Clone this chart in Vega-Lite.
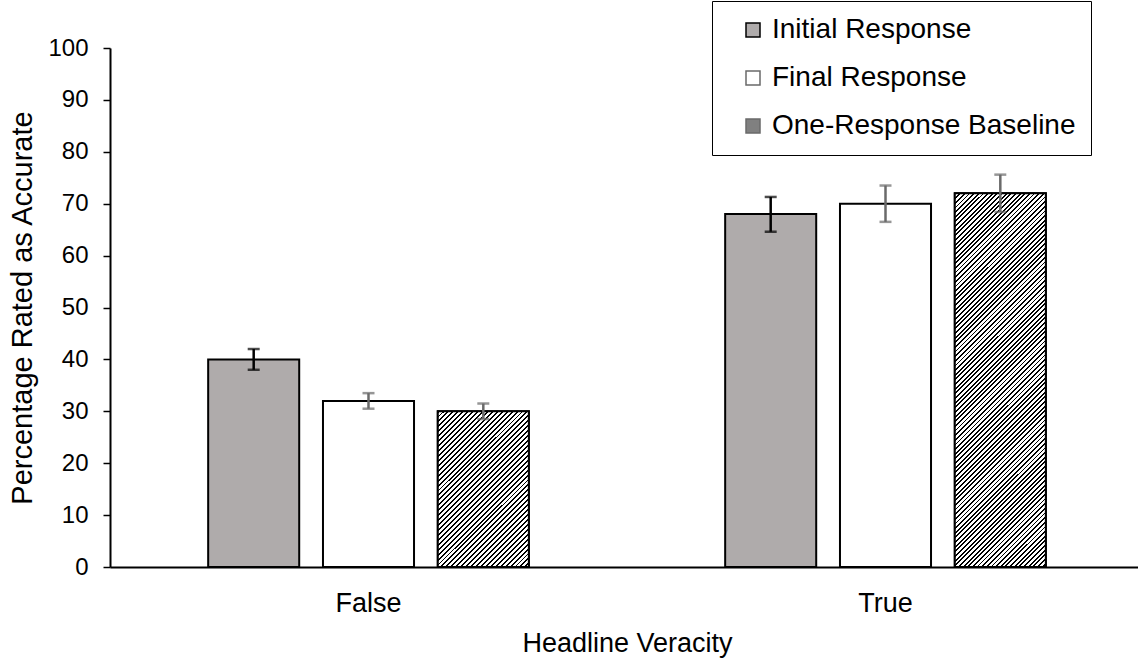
{"$schema":"https://vega.github.io/schema/vega-lite/v6.json","width":1028,"height":519,"autosize":{"type":"none"},"padding":{"left":110,"top":48,"right":0,"bottom":99},"background":"white",
"config":{"view":{"stroke":null},"font":"Liberation Sans","axis":{"labelFont":"Liberation Sans","titleFont":"Liberation Sans","labelColor":"#000","titleColor":"#000","titleFontWeight":"normal","grid":false,"domainColor":"#000","tickColor":"#000"}},
"data":{"values":[
{"cat":"False","series":"Initial Response","value":40,"lo":38,"hi":42},
{"cat":"False","series":"Final Response","value":32,"lo":30.5,"hi":33.5},
{"cat":"False","series":"One-Response Baseline","value":30,"lo":28.5,"hi":31.5},
{"cat":"True","series":"Initial Response","value":68,"lo":64.6,"hi":71.3},
{"cat":"True","series":"Final Response","value":70,"lo":66.5,"hi":73.5},
{"cat":"True","series":"One-Response Baseline","value":72,"lo":68.4,"hi":75.6}]},
"encoding":{
"x":{"field":"cat","type":"nominal","sort":["False","True"],"scale":{"range":[0,1034],"paddingInner":0,"paddingOuter":0},"axis":{"title":"Headline Veracity","labelAngle":0,"ticks":false,"domainWidth":2,"labelFontSize":27,"titleFontSize":27,"labelPadding":23,"titlePadding":14}},
"xOffset":{"field":"series","type":"nominal","sort":["Initial Response","Final Response","One-Response Baseline"],"scale":{"domain":["Initial Response","Final Response","One-Response Baseline"],"paddingInner":0.207,"paddingOuter":0.855}}},
"layer":[
{"mark":{"type":"bar","stroke":"#000","strokeWidth":2},
"encoding":{"y":{"field":"value","type":"quantitative","scale":{"domain":[0,100],"nice":false},"axis":{"title":"Percentage Rated as Accurate","values":[0,10,20,30,40,50,60,70,80,90,100],"tickSize":7,"tickWidth":1.5,"domainWidth":2,"labelFontSize":24,"titleFontSize":29,"labelPadding":15,"titlePadding":10}},
"fill":{"field":"series","type":"nominal","scale":{"domain":["Initial Response","Final Response","One-Response Baseline"],"range":["#AFABAB","#FFFFFF","#808080"]},
"legend":{"title":null,"orient":"none","legendX":602,"legendY":-47,"direction":"vertical","labelFontSize":28,"labelFont":"Liberation Sans","labelColor":"#000","labelLimit":400,"symbolType":"square","symbolSize":196,"symbolStrokeColor":"#404040","symbolStrokeWidth":1.5,"symbolOffset":12,"labelOffset":5,"rowPadding":20,"padding":15,"strokeColor":"#000"}}}},
{"transform":[{"filter":"datum.cat === 'False' && datum.series === 'One-Response Baseline'"}],
"mark":{"type":"bar","stroke":"#000","strokeWidth":2,"fill":{"gradient":"linear","x1":0,"y1":0,"x2":0.690,"y2":1.181,"stops":[
{"offset":0,"color":"#000"},{"offset":0.008,"color":"#000"},{"offset":0.008,"color":"#fff"},{"offset":0.02,"color":"#fff"},
{"offset":0.02,"color":"#000"},{"offset":0.028,"color":"#000"},{"offset":0.028,"color":"#fff"},{"offset":0.04,"color":"#fff"},
{"offset":0.04,"color":"#000"},{"offset":0.048,"color":"#000"},{"offset":0.048,"color":"#fff"},{"offset":0.06,"color":"#fff"},
{"offset":0.06,"color":"#000"},{"offset":0.068,"color":"#000"},{"offset":0.068,"color":"#fff"},{"offset":0.08,"color":"#fff"},
{"offset":0.08,"color":"#000"},{"offset":0.088,"color":"#000"},{"offset":0.088,"color":"#fff"},{"offset":0.1,"color":"#fff"},
{"offset":0.1,"color":"#000"},{"offset":0.108,"color":"#000"},{"offset":0.108,"color":"#fff"},{"offset":0.12,"color":"#fff"},
{"offset":0.12,"color":"#000"},{"offset":0.128,"color":"#000"},{"offset":0.128,"color":"#fff"},{"offset":0.14,"color":"#fff"},
{"offset":0.14,"color":"#000"},{"offset":0.148,"color":"#000"},{"offset":0.148,"color":"#fff"},{"offset":0.16,"color":"#fff"},
{"offset":0.16,"color":"#000"},{"offset":0.168,"color":"#000"},{"offset":0.168,"color":"#fff"},{"offset":0.18,"color":"#fff"},
{"offset":0.18,"color":"#000"},{"offset":0.188,"color":"#000"},{"offset":0.188,"color":"#fff"},{"offset":0.2,"color":"#fff"},
{"offset":0.2,"color":"#000"},{"offset":0.208,"color":"#000"},{"offset":0.208,"color":"#fff"},{"offset":0.22,"color":"#fff"},
{"offset":0.22,"color":"#000"},{"offset":0.228,"color":"#000"},{"offset":0.228,"color":"#fff"},{"offset":0.24,"color":"#fff"},
{"offset":0.24,"color":"#000"},{"offset":0.248,"color":"#000"},{"offset":0.248,"color":"#fff"},{"offset":0.26,"color":"#fff"},
{"offset":0.26,"color":"#000"},{"offset":0.268,"color":"#000"},{"offset":0.268,"color":"#fff"},{"offset":0.28,"color":"#fff"},
{"offset":0.28,"color":"#000"},{"offset":0.288,"color":"#000"},{"offset":0.288,"color":"#fff"},{"offset":0.3,"color":"#fff"},
{"offset":0.3,"color":"#000"},{"offset":0.308,"color":"#000"},{"offset":0.308,"color":"#fff"},{"offset":0.32,"color":"#fff"},
{"offset":0.32,"color":"#000"},{"offset":0.328,"color":"#000"},{"offset":0.328,"color":"#fff"},{"offset":0.34,"color":"#fff"},
{"offset":0.34,"color":"#000"},{"offset":0.348,"color":"#000"},{"offset":0.348,"color":"#fff"},{"offset":0.36,"color":"#fff"},
{"offset":0.36,"color":"#000"},{"offset":0.368,"color":"#000"},{"offset":0.368,"color":"#fff"},{"offset":0.38,"color":"#fff"},
{"offset":0.38,"color":"#000"},{"offset":0.388,"color":"#000"},{"offset":0.388,"color":"#fff"},{"offset":0.4,"color":"#fff"},
{"offset":0.4,"color":"#000"},{"offset":0.408,"color":"#000"},{"offset":0.408,"color":"#fff"},{"offset":0.42,"color":"#fff"},
{"offset":0.42,"color":"#000"},{"offset":0.428,"color":"#000"},{"offset":0.428,"color":"#fff"},{"offset":0.44,"color":"#fff"},
{"offset":0.44,"color":"#000"},{"offset":0.448,"color":"#000"},{"offset":0.448,"color":"#fff"},{"offset":0.46,"color":"#fff"},
{"offset":0.46,"color":"#000"},{"offset":0.468,"color":"#000"},{"offset":0.468,"color":"#fff"},{"offset":0.48,"color":"#fff"},
{"offset":0.48,"color":"#000"},{"offset":0.488,"color":"#000"},{"offset":0.488,"color":"#fff"},{"offset":0.5,"color":"#fff"},
{"offset":0.5,"color":"#000"},{"offset":0.508,"color":"#000"},{"offset":0.508,"color":"#fff"},{"offset":0.52,"color":"#fff"},
{"offset":0.52,"color":"#000"},{"offset":0.528,"color":"#000"},{"offset":0.528,"color":"#fff"},{"offset":0.54,"color":"#fff"},
{"offset":0.54,"color":"#000"},{"offset":0.548,"color":"#000"},{"offset":0.548,"color":"#fff"},{"offset":0.56,"color":"#fff"},
{"offset":0.56,"color":"#000"},{"offset":0.568,"color":"#000"},{"offset":0.568,"color":"#fff"},{"offset":0.58,"color":"#fff"},
{"offset":0.58,"color":"#000"},{"offset":0.588,"color":"#000"},{"offset":0.588,"color":"#fff"},{"offset":0.6,"color":"#fff"},
{"offset":0.6,"color":"#000"},{"offset":0.608,"color":"#000"},{"offset":0.608,"color":"#fff"},{"offset":0.62,"color":"#fff"},
{"offset":0.62,"color":"#000"},{"offset":0.628,"color":"#000"},{"offset":0.628,"color":"#fff"},{"offset":0.64,"color":"#fff"},
{"offset":0.64,"color":"#000"},{"offset":0.648,"color":"#000"},{"offset":0.648,"color":"#fff"},{"offset":0.66,"color":"#fff"},
{"offset":0.66,"color":"#000"},{"offset":0.668,"color":"#000"},{"offset":0.668,"color":"#fff"},{"offset":0.68,"color":"#fff"},
{"offset":0.68,"color":"#000"},{"offset":0.688,"color":"#000"},{"offset":0.688,"color":"#fff"},{"offset":0.7,"color":"#fff"},
{"offset":0.7,"color":"#000"},{"offset":0.708,"color":"#000"},{"offset":0.708,"color":"#fff"},{"offset":0.72,"color":"#fff"},
{"offset":0.72,"color":"#000"},{"offset":0.728,"color":"#000"},{"offset":0.728,"color":"#fff"},{"offset":0.74,"color":"#fff"},
{"offset":0.74,"color":"#000"},{"offset":0.748,"color":"#000"},{"offset":0.748,"color":"#fff"},{"offset":0.76,"color":"#fff"},
{"offset":0.76,"color":"#000"},{"offset":0.768,"color":"#000"},{"offset":0.768,"color":"#fff"},{"offset":0.78,"color":"#fff"},
{"offset":0.78,"color":"#000"},{"offset":0.788,"color":"#000"},{"offset":0.788,"color":"#fff"},{"offset":0.8,"color":"#fff"},
{"offset":0.8,"color":"#000"},{"offset":0.808,"color":"#000"},{"offset":0.808,"color":"#fff"},{"offset":0.82,"color":"#fff"},
{"offset":0.82,"color":"#000"},{"offset":0.828,"color":"#000"},{"offset":0.828,"color":"#fff"},{"offset":0.84,"color":"#fff"},
{"offset":0.84,"color":"#000"},{"offset":0.848,"color":"#000"},{"offset":0.848,"color":"#fff"},{"offset":0.86,"color":"#fff"},
{"offset":0.86,"color":"#000"},{"offset":0.868,"color":"#000"},{"offset":0.868,"color":"#fff"},{"offset":0.88,"color":"#fff"},
{"offset":0.88,"color":"#000"},{"offset":0.888,"color":"#000"},{"offset":0.888,"color":"#fff"},{"offset":0.9,"color":"#fff"},
{"offset":0.9,"color":"#000"},{"offset":0.908,"color":"#000"},{"offset":0.908,"color":"#fff"},{"offset":0.92,"color":"#fff"},
{"offset":0.92,"color":"#000"},{"offset":0.928,"color":"#000"},{"offset":0.928,"color":"#fff"},{"offset":0.94,"color":"#fff"},
{"offset":0.94,"color":"#000"},{"offset":0.948,"color":"#000"},{"offset":0.948,"color":"#fff"},{"offset":0.96,"color":"#fff"},
{"offset":0.96,"color":"#000"},{"offset":0.968,"color":"#000"},{"offset":0.968,"color":"#fff"},{"offset":0.98,"color":"#fff"},
{"offset":0.98,"color":"#000"},{"offset":0.988,"color":"#000"},{"offset":0.988,"color":"#fff"},{"offset":1,"color":"#fff"}]}},
"encoding":{"y":{"field":"value","type":"quantitative","title":"Percentage Rated as Accurate"}}},
{"transform":[{"filter":"datum.cat === 'True' && datum.series === 'One-Response Baseline'"}],
"mark":{"type":"bar","stroke":"#000","strokeWidth":2,"fill":{"gradient":"linear","x1":0,"y1":0,"x2":0.2859,"y2":1.1739,"stops":[
{"offset":0,"color":"#000"},{"offset":0.004,"color":"#000"},{"offset":0.004,"color":"#fff"},{"offset":0.01,"color":"#fff"},
{"offset":0.01,"color":"#000"},{"offset":0.014,"color":"#000"},{"offset":0.014,"color":"#fff"},{"offset":0.02,"color":"#fff"},
{"offset":0.02,"color":"#000"},{"offset":0.024,"color":"#000"},{"offset":0.024,"color":"#fff"},{"offset":0.03,"color":"#fff"},
{"offset":0.03,"color":"#000"},{"offset":0.034,"color":"#000"},{"offset":0.034,"color":"#fff"},{"offset":0.04,"color":"#fff"},
{"offset":0.04,"color":"#000"},{"offset":0.044,"color":"#000"},{"offset":0.044,"color":"#fff"},{"offset":0.05,"color":"#fff"},
{"offset":0.05,"color":"#000"},{"offset":0.054,"color":"#000"},{"offset":0.054,"color":"#fff"},{"offset":0.06,"color":"#fff"},
{"offset":0.06,"color":"#000"},{"offset":0.064,"color":"#000"},{"offset":0.064,"color":"#fff"},{"offset":0.07,"color":"#fff"},
{"offset":0.07,"color":"#000"},{"offset":0.074,"color":"#000"},{"offset":0.074,"color":"#fff"},{"offset":0.08,"color":"#fff"},
{"offset":0.08,"color":"#000"},{"offset":0.084,"color":"#000"},{"offset":0.084,"color":"#fff"},{"offset":0.09,"color":"#fff"},
{"offset":0.09,"color":"#000"},{"offset":0.094,"color":"#000"},{"offset":0.094,"color":"#fff"},{"offset":0.1,"color":"#fff"},
{"offset":0.1,"color":"#000"},{"offset":0.104,"color":"#000"},{"offset":0.104,"color":"#fff"},{"offset":0.11,"color":"#fff"},
{"offset":0.11,"color":"#000"},{"offset":0.114,"color":"#000"},{"offset":0.114,"color":"#fff"},{"offset":0.12,"color":"#fff"},
{"offset":0.12,"color":"#000"},{"offset":0.124,"color":"#000"},{"offset":0.124,"color":"#fff"},{"offset":0.13,"color":"#fff"},
{"offset":0.13,"color":"#000"},{"offset":0.134,"color":"#000"},{"offset":0.134,"color":"#fff"},{"offset":0.14,"color":"#fff"},
{"offset":0.14,"color":"#000"},{"offset":0.144,"color":"#000"},{"offset":0.144,"color":"#fff"},{"offset":0.15,"color":"#fff"},
{"offset":0.15,"color":"#000"},{"offset":0.154,"color":"#000"},{"offset":0.154,"color":"#fff"},{"offset":0.16,"color":"#fff"},
{"offset":0.16,"color":"#000"},{"offset":0.164,"color":"#000"},{"offset":0.164,"color":"#fff"},{"offset":0.17,"color":"#fff"},
{"offset":0.17,"color":"#000"},{"offset":0.174,"color":"#000"},{"offset":0.174,"color":"#fff"},{"offset":0.18,"color":"#fff"},
{"offset":0.18,"color":"#000"},{"offset":0.184,"color":"#000"},{"offset":0.184,"color":"#fff"},{"offset":0.19,"color":"#fff"},
{"offset":0.19,"color":"#000"},{"offset":0.194,"color":"#000"},{"offset":0.194,"color":"#fff"},{"offset":0.2,"color":"#fff"},
{"offset":0.2,"color":"#000"},{"offset":0.204,"color":"#000"},{"offset":0.204,"color":"#fff"},{"offset":0.21,"color":"#fff"},
{"offset":0.21,"color":"#000"},{"offset":0.214,"color":"#000"},{"offset":0.214,"color":"#fff"},{"offset":0.22,"color":"#fff"},
{"offset":0.22,"color":"#000"},{"offset":0.224,"color":"#000"},{"offset":0.224,"color":"#fff"},{"offset":0.23,"color":"#fff"},
{"offset":0.23,"color":"#000"},{"offset":0.234,"color":"#000"},{"offset":0.234,"color":"#fff"},{"offset":0.24,"color":"#fff"},
{"offset":0.24,"color":"#000"},{"offset":0.244,"color":"#000"},{"offset":0.244,"color":"#fff"},{"offset":0.25,"color":"#fff"},
{"offset":0.25,"color":"#000"},{"offset":0.254,"color":"#000"},{"offset":0.254,"color":"#fff"},{"offset":0.26,"color":"#fff"},
{"offset":0.26,"color":"#000"},{"offset":0.264,"color":"#000"},{"offset":0.264,"color":"#fff"},{"offset":0.27,"color":"#fff"},
{"offset":0.27,"color":"#000"},{"offset":0.274,"color":"#000"},{"offset":0.274,"color":"#fff"},{"offset":0.28,"color":"#fff"},
{"offset":0.28,"color":"#000"},{"offset":0.284,"color":"#000"},{"offset":0.284,"color":"#fff"},{"offset":0.29,"color":"#fff"},
{"offset":0.29,"color":"#000"},{"offset":0.294,"color":"#000"},{"offset":0.294,"color":"#fff"},{"offset":0.3,"color":"#fff"},
{"offset":0.3,"color":"#000"},{"offset":0.304,"color":"#000"},{"offset":0.304,"color":"#fff"},{"offset":0.31,"color":"#fff"},
{"offset":0.31,"color":"#000"},{"offset":0.314,"color":"#000"},{"offset":0.314,"color":"#fff"},{"offset":0.32,"color":"#fff"},
{"offset":0.32,"color":"#000"},{"offset":0.324,"color":"#000"},{"offset":0.324,"color":"#fff"},{"offset":0.33,"color":"#fff"},
{"offset":0.33,"color":"#000"},{"offset":0.334,"color":"#000"},{"offset":0.334,"color":"#fff"},{"offset":0.34,"color":"#fff"},
{"offset":0.34,"color":"#000"},{"offset":0.344,"color":"#000"},{"offset":0.344,"color":"#fff"},{"offset":0.35,"color":"#fff"},
{"offset":0.35,"color":"#000"},{"offset":0.354,"color":"#000"},{"offset":0.354,"color":"#fff"},{"offset":0.36,"color":"#fff"},
{"offset":0.36,"color":"#000"},{"offset":0.364,"color":"#000"},{"offset":0.364,"color":"#fff"},{"offset":0.37,"color":"#fff"},
{"offset":0.37,"color":"#000"},{"offset":0.374,"color":"#000"},{"offset":0.374,"color":"#fff"},{"offset":0.38,"color":"#fff"},
{"offset":0.38,"color":"#000"},{"offset":0.384,"color":"#000"},{"offset":0.384,"color":"#fff"},{"offset":0.39,"color":"#fff"},
{"offset":0.39,"color":"#000"},{"offset":0.394,"color":"#000"},{"offset":0.394,"color":"#fff"},{"offset":0.4,"color":"#fff"},
{"offset":0.4,"color":"#000"},{"offset":0.404,"color":"#000"},{"offset":0.404,"color":"#fff"},{"offset":0.41,"color":"#fff"},
{"offset":0.41,"color":"#000"},{"offset":0.414,"color":"#000"},{"offset":0.414,"color":"#fff"},{"offset":0.42,"color":"#fff"},
{"offset":0.42,"color":"#000"},{"offset":0.424,"color":"#000"},{"offset":0.424,"color":"#fff"},{"offset":0.43,"color":"#fff"},
{"offset":0.43,"color":"#000"},{"offset":0.434,"color":"#000"},{"offset":0.434,"color":"#fff"},{"offset":0.44,"color":"#fff"},
{"offset":0.44,"color":"#000"},{"offset":0.444,"color":"#000"},{"offset":0.444,"color":"#fff"},{"offset":0.45,"color":"#fff"},
{"offset":0.45,"color":"#000"},{"offset":0.454,"color":"#000"},{"offset":0.454,"color":"#fff"},{"offset":0.46,"color":"#fff"},
{"offset":0.46,"color":"#000"},{"offset":0.464,"color":"#000"},{"offset":0.464,"color":"#fff"},{"offset":0.47,"color":"#fff"},
{"offset":0.47,"color":"#000"},{"offset":0.474,"color":"#000"},{"offset":0.474,"color":"#fff"},{"offset":0.48,"color":"#fff"},
{"offset":0.48,"color":"#000"},{"offset":0.484,"color":"#000"},{"offset":0.484,"color":"#fff"},{"offset":0.49,"color":"#fff"},
{"offset":0.49,"color":"#000"},{"offset":0.494,"color":"#000"},{"offset":0.494,"color":"#fff"},{"offset":0.5,"color":"#fff"},
{"offset":0.5,"color":"#000"},{"offset":0.504,"color":"#000"},{"offset":0.504,"color":"#fff"},{"offset":0.51,"color":"#fff"},
{"offset":0.51,"color":"#000"},{"offset":0.514,"color":"#000"},{"offset":0.514,"color":"#fff"},{"offset":0.52,"color":"#fff"},
{"offset":0.52,"color":"#000"},{"offset":0.524,"color":"#000"},{"offset":0.524,"color":"#fff"},{"offset":0.53,"color":"#fff"},
{"offset":0.53,"color":"#000"},{"offset":0.534,"color":"#000"},{"offset":0.534,"color":"#fff"},{"offset":0.54,"color":"#fff"},
{"offset":0.54,"color":"#000"},{"offset":0.544,"color":"#000"},{"offset":0.544,"color":"#fff"},{"offset":0.55,"color":"#fff"},
{"offset":0.55,"color":"#000"},{"offset":0.554,"color":"#000"},{"offset":0.554,"color":"#fff"},{"offset":0.56,"color":"#fff"},
{"offset":0.56,"color":"#000"},{"offset":0.564,"color":"#000"},{"offset":0.564,"color":"#fff"},{"offset":0.57,"color":"#fff"},
{"offset":0.57,"color":"#000"},{"offset":0.574,"color":"#000"},{"offset":0.574,"color":"#fff"},{"offset":0.58,"color":"#fff"},
{"offset":0.58,"color":"#000"},{"offset":0.584,"color":"#000"},{"offset":0.584,"color":"#fff"},{"offset":0.59,"color":"#fff"},
{"offset":0.59,"color":"#000"},{"offset":0.594,"color":"#000"},{"offset":0.594,"color":"#fff"},{"offset":0.6,"color":"#fff"},
{"offset":0.6,"color":"#000"},{"offset":0.604,"color":"#000"},{"offset":0.604,"color":"#fff"},{"offset":0.61,"color":"#fff"},
{"offset":0.61,"color":"#000"},{"offset":0.614,"color":"#000"},{"offset":0.614,"color":"#fff"},{"offset":0.62,"color":"#fff"},
{"offset":0.62,"color":"#000"},{"offset":0.624,"color":"#000"},{"offset":0.624,"color":"#fff"},{"offset":0.63,"color":"#fff"},
{"offset":0.63,"color":"#000"},{"offset":0.634,"color":"#000"},{"offset":0.634,"color":"#fff"},{"offset":0.64,"color":"#fff"},
{"offset":0.64,"color":"#000"},{"offset":0.644,"color":"#000"},{"offset":0.644,"color":"#fff"},{"offset":0.65,"color":"#fff"},
{"offset":0.65,"color":"#000"},{"offset":0.654,"color":"#000"},{"offset":0.654,"color":"#fff"},{"offset":0.66,"color":"#fff"},
{"offset":0.66,"color":"#000"},{"offset":0.664,"color":"#000"},{"offset":0.664,"color":"#fff"},{"offset":0.67,"color":"#fff"},
{"offset":0.67,"color":"#000"},{"offset":0.674,"color":"#000"},{"offset":0.674,"color":"#fff"},{"offset":0.68,"color":"#fff"},
{"offset":0.68,"color":"#000"},{"offset":0.684,"color":"#000"},{"offset":0.684,"color":"#fff"},{"offset":0.69,"color":"#fff"},
{"offset":0.69,"color":"#000"},{"offset":0.694,"color":"#000"},{"offset":0.694,"color":"#fff"},{"offset":0.7,"color":"#fff"},
{"offset":0.7,"color":"#000"},{"offset":0.704,"color":"#000"},{"offset":0.704,"color":"#fff"},{"offset":0.71,"color":"#fff"},
{"offset":0.71,"color":"#000"},{"offset":0.714,"color":"#000"},{"offset":0.714,"color":"#fff"},{"offset":0.72,"color":"#fff"},
{"offset":0.72,"color":"#000"},{"offset":0.724,"color":"#000"},{"offset":0.724,"color":"#fff"},{"offset":0.73,"color":"#fff"},
{"offset":0.73,"color":"#000"},{"offset":0.734,"color":"#000"},{"offset":0.734,"color":"#fff"},{"offset":0.74,"color":"#fff"},
{"offset":0.74,"color":"#000"},{"offset":0.744,"color":"#000"},{"offset":0.744,"color":"#fff"},{"offset":0.75,"color":"#fff"},
{"offset":0.75,"color":"#000"},{"offset":0.754,"color":"#000"},{"offset":0.754,"color":"#fff"},{"offset":0.76,"color":"#fff"},
{"offset":0.76,"color":"#000"},{"offset":0.764,"color":"#000"},{"offset":0.764,"color":"#fff"},{"offset":0.77,"color":"#fff"},
{"offset":0.77,"color":"#000"},{"offset":0.774,"color":"#000"},{"offset":0.774,"color":"#fff"},{"offset":0.78,"color":"#fff"},
{"offset":0.78,"color":"#000"},{"offset":0.784,"color":"#000"},{"offset":0.784,"color":"#fff"},{"offset":0.79,"color":"#fff"},
{"offset":0.79,"color":"#000"},{"offset":0.794,"color":"#000"},{"offset":0.794,"color":"#fff"},{"offset":0.8,"color":"#fff"},
{"offset":0.8,"color":"#000"},{"offset":0.804,"color":"#000"},{"offset":0.804,"color":"#fff"},{"offset":0.81,"color":"#fff"},
{"offset":0.81,"color":"#000"},{"offset":0.814,"color":"#000"},{"offset":0.814,"color":"#fff"},{"offset":0.82,"color":"#fff"},
{"offset":0.82,"color":"#000"},{"offset":0.824,"color":"#000"},{"offset":0.824,"color":"#fff"},{"offset":0.83,"color":"#fff"},
{"offset":0.83,"color":"#000"},{"offset":0.834,"color":"#000"},{"offset":0.834,"color":"#fff"},{"offset":0.84,"color":"#fff"},
{"offset":0.84,"color":"#000"},{"offset":0.844,"color":"#000"},{"offset":0.844,"color":"#fff"},{"offset":0.85,"color":"#fff"},
{"offset":0.85,"color":"#000"},{"offset":0.854,"color":"#000"},{"offset":0.854,"color":"#fff"},{"offset":0.86,"color":"#fff"},
{"offset":0.86,"color":"#000"},{"offset":0.864,"color":"#000"},{"offset":0.864,"color":"#fff"},{"offset":0.87,"color":"#fff"},
{"offset":0.87,"color":"#000"},{"offset":0.874,"color":"#000"},{"offset":0.874,"color":"#fff"},{"offset":0.88,"color":"#fff"},
{"offset":0.88,"color":"#000"},{"offset":0.884,"color":"#000"},{"offset":0.884,"color":"#fff"},{"offset":0.89,"color":"#fff"},
{"offset":0.89,"color":"#000"},{"offset":0.894,"color":"#000"},{"offset":0.894,"color":"#fff"},{"offset":0.9,"color":"#fff"},
{"offset":0.9,"color":"#000"},{"offset":0.904,"color":"#000"},{"offset":0.904,"color":"#fff"},{"offset":0.91,"color":"#fff"},
{"offset":0.91,"color":"#000"},{"offset":0.914,"color":"#000"},{"offset":0.914,"color":"#fff"},{"offset":0.92,"color":"#fff"},
{"offset":0.92,"color":"#000"},{"offset":0.924,"color":"#000"},{"offset":0.924,"color":"#fff"},{"offset":0.93,"color":"#fff"},
{"offset":0.93,"color":"#000"},{"offset":0.934,"color":"#000"},{"offset":0.934,"color":"#fff"},{"offset":0.94,"color":"#fff"},
{"offset":0.94,"color":"#000"},{"offset":0.944,"color":"#000"},{"offset":0.944,"color":"#fff"},{"offset":0.95,"color":"#fff"},
{"offset":0.95,"color":"#000"},{"offset":0.954,"color":"#000"},{"offset":0.954,"color":"#fff"},{"offset":0.96,"color":"#fff"},
{"offset":0.96,"color":"#000"},{"offset":0.964,"color":"#000"},{"offset":0.964,"color":"#fff"},{"offset":0.97,"color":"#fff"},
{"offset":0.97,"color":"#000"},{"offset":0.974,"color":"#000"},{"offset":0.974,"color":"#fff"},{"offset":0.98,"color":"#fff"},
{"offset":0.98,"color":"#000"},{"offset":0.984,"color":"#000"},{"offset":0.984,"color":"#fff"},{"offset":0.99,"color":"#fff"},
{"offset":0.99,"color":"#000"},{"offset":0.994,"color":"#000"},{"offset":0.994,"color":"#fff"},{"offset":1,"color":"#fff"}]}},
"encoding":{"y":{"field":"value","type":"quantitative","title":"Percentage Rated as Accurate"}}},
{"mark":{"type":"rule","strokeWidth":2.5},
"encoding":{"y":{"field":"lo","type":"quantitative","title":"Percentage Rated as Accurate"},"y2":{"field":"hi"},
"color":{"field":"series","type":"nominal","scale":{"domain":["Initial Response","Final Response","One-Response Baseline"],"range":["#000000","#6A6A6A","#6A6A6A"]},"legend":null}}},
{"mark":{"type":"tick","thickness":2.5,"size":12},
"encoding":{"y":{"field":"lo","type":"quantitative","title":"Percentage Rated as Accurate"},
"color":{"field":"series","type":"nominal","legend":null}}},
{"mark":{"type":"tick","thickness":2.5,"size":12},
"encoding":{"y":{"field":"hi","type":"quantitative","title":"Percentage Rated as Accurate"},
"color":{"field":"series","type":"nominal","legend":null}}}
]}
